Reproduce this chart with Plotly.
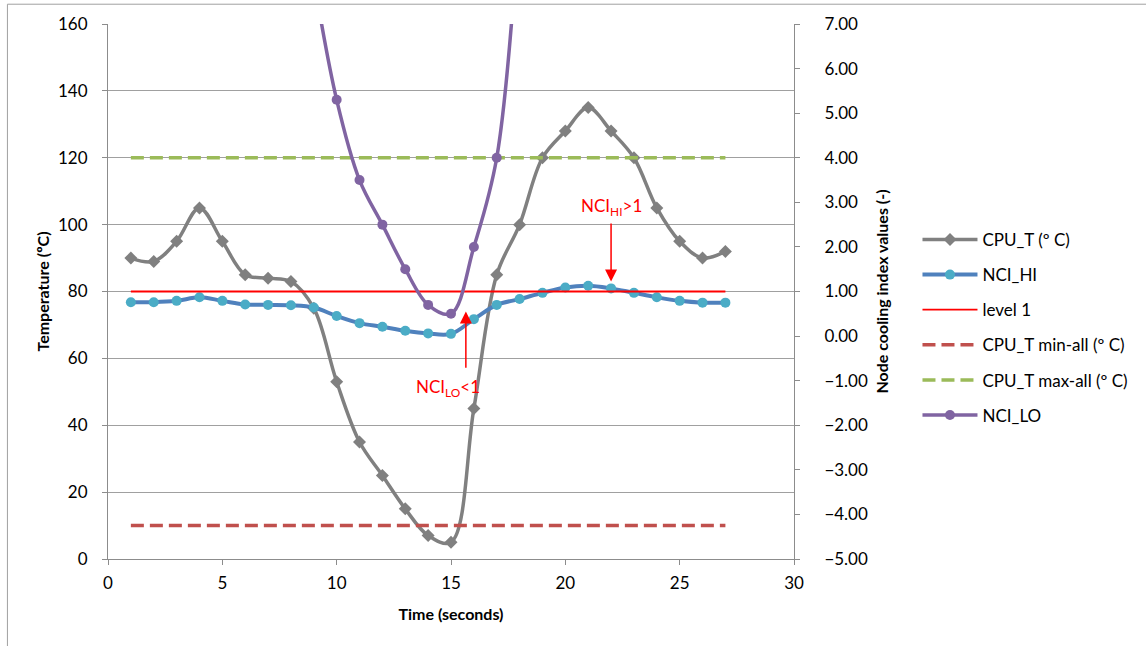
import plotly.graph_objects as go

time_s = list(range(1, 28))
cpu_t = [90, 89, 95, 105, 95, 85, 84, 83, 75, 53, 35, 25, 15, 7, 5, 45, 85, 100, 120, 128, 135, 128, 120, 105, 95, 90, 92]
nci_hi = [0.76, 0.76, 0.79, 0.87, 0.79, 0.71, 0.70, 0.69, 0.64, 0.45, 0.29, 0.21, 0.12, 0.06, 0.05, 0.38, 0.70, 0.83,
          0.97, 1.09, 1.13, 1.07, 0.97, 0.87, 0.79, 0.75, 0.75]
nci_lo_time = [9, 10, 11, 12, 13, 14, 15, 16, 17, 18]
nci_lo = [8.0, 5.3, 3.5, 2.5, 1.5, 0.7, 0.5, 2.0, 4.0, 9.5]
level_1 = [1.0] * len(time_s)
cpu_min_all = [10] * len(time_s)
cpu_max_all = [120] * len(time_s)

FONT = "Lato"
fig = go.Figure()

fig.add_trace(go.Scatter(x=time_s, y=cpu_t, name="CPU_T (º C)", mode="lines+markers",
                         line=dict(color="#808080", width=3.5, shape="spline", smoothing=1),
                         marker=dict(symbol="diamond", size=10, color="#808080"),
                         legendgroup="a", yaxis="y"))
fig.add_trace(go.Scatter(x=time_s, y=nci_hi, name="NCI_HI", mode="lines+markers",
                         line=dict(color="#4F81BD", width=4, shape="spline", smoothing=1),
                         marker=dict(symbol="circle", size=10, color="#4BACC6"),
                         legendgroup="b", yaxis="y2"))
fig.add_trace(go.Scatter(x=time_s, y=level_1, name="level 1", mode="lines",
                         line=dict(color="#FF0000", width=1.8),
                         legendgroup="c", yaxis="y2"))
fig.add_trace(go.Scatter(x=time_s, y=cpu_min_all, name="CPU_T min-all (º C)", mode="lines",
                         line=dict(color="#C0504D", width=3.5, dash="13px,6px"),
                         legendgroup="d", yaxis="y"))
fig.add_trace(go.Scatter(x=time_s, y=cpu_max_all, name="CPU_T max-all (º C)", mode="lines",
                         line=dict(color="#9BBB59", width=3.5, dash="13px,6px"),
                         legendgroup="e", yaxis="y"))
fig.add_trace(go.Scatter(x=nci_lo_time, y=nci_lo, name="NCI_LO", mode="lines+markers",
                         line=dict(color="#8064A2", width=3.5, shape="spline", smoothing=1),
                         marker=dict(symbol="circle", size=10, color="#8064A2"),
                         legendgroup="f", yaxis="y2"))

# annotations: label text with arrow pointing at the curves
fig.add_annotation(x=22, y=83, xref="x", yref="y", ax=22, ay=105.3, axref="x", ayref="y",
                   text="NCI<sub>HI</sub>>1", showarrow=True, arrowcolor="#FF0000", arrowwidth=1.5,
                   arrowhead=2, arrowsize=1.6, borderpad=4,
                   font=dict(family=FONT, size=17, color="#FF0000"))
fig.add_annotation(x=15.65, y=74, xref="x", yref="y", ax=15.65, ay=51.1, axref="x", ayref="y",
                   text="NCI<sub>LO</sub><1", showarrow=True, arrowcolor="#FF0000", arrowwidth=1.5,
                   arrowhead=2, arrowsize=1.6, borderpad=8, width=100, align="left",
                   font=dict(family=FONT, size=17, color="#FF0000"))

# outer chart frame
fig.add_shape(type="rect", xref="paper", yref="paper", x0=-0.1466, x1=1.8, y0=-0.4, y1=1.037,
              line=dict(color="#A0A0A0", width=1), layer="below")

axis_font = dict(family=FONT, size=17, color="#000000")
fig.update_layout(
    width=1146, height=646,
    margin=dict(l=108, r=349, t=24, b=87),
    paper_bgcolor="white", plot_bgcolor="white",
    font=dict(family=FONT, size=17, color="#000000"),
    xaxis=dict(range=[0, 30], dtick=5, tick0=0, showgrid=False, zeroline=False,
               showline=True, linecolor="#8C8C8C", linewidth=1, mirror=False,
               ticks="outside", ticklen=5, tickcolor="#8C8C8C", tickfont=axis_font,
               ticklabelstandoff=4, automargin=False,
               title=dict(text="<b>Time (seconds)</b>", font=dict(family=FONT, size=16), standoff=16)),
    yaxis=dict(range=[0, 160], dtick=20, tick0=0, showgrid=True, gridcolor="#A0A0A0", gridwidth=1,
               zeroline=False, showline=True, linecolor="#8C8C8C", linewidth=1,
               ticks="outside", ticklen=5, tickcolor="#8C8C8C", tickfont=axis_font,
               ticklabelstandoff=11, automargin=False,
               title=dict(text="<b>Temperature (ºC)</b>", font=dict(family=FONT, size=16), standoff=4)),
    yaxis2=dict(range=[-5, 7], dtick=1, tick0=-5, overlaying="y", side="right", showgrid=False,
                zeroline=False, showline=True, linecolor="#8C8C8C", linewidth=1,
                ticks="outside", ticklen=5, tickcolor="#8C8C8C", tickformat=".2f", tickfont=axis_font,
                ticklabelstandoff=21, automargin=False,
                title=dict(text="<b>Node cooling index values (-)</b>", font=dict(family=FONT, size=16), standoff=9)),
    legend=dict(x=1.18, y=0.63, xanchor="left", yanchor="top", tracegroupgap=10, itemwidth=55,
                font=dict(family=FONT, size=17), bgcolor="rgba(0,0,0,0)"),
    showlegend=True,
)

fig.write_html("out.html", config={"displayModeBar": False},
               post_script="document.body.style.margin='0';")
